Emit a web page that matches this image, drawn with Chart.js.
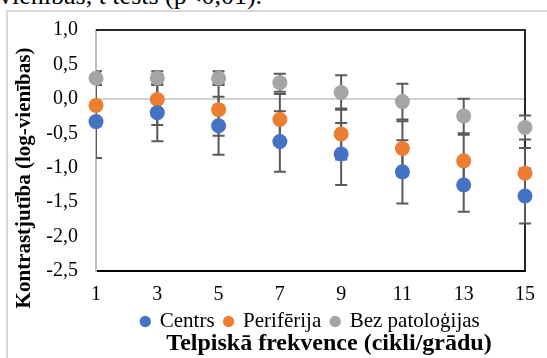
<!DOCTYPE html>
<html><head><meta charset="utf-8">
<script src="https://cdn.jsdelivr.net/npm/chart.js@4.4.1/dist/chart.umd.min.js"></script>
<style>
html,body{margin:0;padding:0;width:547px;height:358px;overflow:hidden;background:#fff;}
#doc{position:absolute;left:-1px;top:-17px;font-family:"Liberation Serif";font-size:26px;line-height:26px;white-space:nowrap;color:#000;}
#frame{position:absolute;left:6px;top:10px;width:700px;height:500px;border:2px solid #d9d9d9;}
#wrap{position:absolute;left:0;top:0;width:547px;height:358px;}
</style></head><body>
<div id="doc">vienības, t tests (p&lt;0,01).</div>
<div id="frame"></div>
<div id="wrap"><canvas id="c" width="547" height="358"></canvas></div>
<script>
const frequencies = [1, 3, 5, 7, 9, 11, 13, 15];
const seriesNames = ['Centrs', 'Perifērija', 'Bez patoloģijas'];
const centrsMean = [-0.33, -0.20, -0.39, -0.62, -0.80, -1.06, -1.25, -1.41];
const centrsErr = [0.53, 0.415, 0.42, 0.44, 0.45, 0.46, 0.39, 0.40];
const periferijaMean = [-0.095, -0.01, -0.157, -0.30, -0.51, -0.72, -0.90, -1.08];
const periferijaErr = [0.30, 0.37, 0.38, 0.37, 0.37, 0.395, 0.38, 0.365];
const bezMean = [0.30, 0.30, 0.30, 0.235, 0.093, -0.04, -0.25, -0.415];
const bezErr = [0.10, 0.10, 0.10, 0.13, 0.25, 0.26, 0.25, 0.175];
const yTicks = [1.0, 0.5, 0.0, -0.5, -1.0, -1.5, -2.0, -2.5];
const xTicks = [1, 3, 5, 7, 9, 11, 13, 15];
const xTitle = 'Telpiskā frekvence (cikli/grādu)';
const yTitle = 'Kontrastjutība (log-vienības)';
const colors = ['#4472C4', '#ED7D31', '#A5A5A5'];

const FONT = '"Liberation Serif", "Times New Roman", serif';
const means = [centrsMean, periferijaMean, bezMean];
const errs = [centrsErr, periferijaErr, bezErr];

const datasets = seriesNames.map((name, i) => ({
  label: name,
  data: frequencies.map((f, j) => ({x: f, y: means[i][j]})),
  errors: errs[i],
  backgroundColor: colors[i],
  borderColor: colors[i],
  borderWidth: 0,
  pointRadius: 7.5,
  pointHoverRadius: 7.5,
  pointStyle: 'circle',
  clip: false
}));

const decor = {
  id: 'decor',
  beforeDatasetsDraw(chart) {
    const {ctx, chartArea: a, scales: {x, y}} = chart;
    ctx.save();
    ctx.strokeStyle = '#262626';
    ctx.lineWidth = 2;
    ctx.beginPath();
    ctx.moveTo(a.left, a.top);
    ctx.lineTo(a.right, a.top);
    ctx.lineTo(a.right, a.bottom);
    ctx.stroke();
    ctx.beginPath();
    ctx.rect(a.left, 0, chart.width - a.left, chart.height);
    ctx.clip();
    ctx.strokeStyle = '#595959';
    ctx.lineWidth = 2;
    chart.data.datasets.forEach((ds) => {
      ds.data.forEach((p, j) => {
        const e = ds.errors[j];
        const px = x.getPixelForValue(p.x);
        const yt = y.getPixelForValue(p.y + e);
        const yb = y.getPixelForValue(p.y - e);
        ctx.beginPath();
        ctx.moveTo(px, yt); ctx.lineTo(px, yb);
        ctx.moveTo(px - 6, yt); ctx.lineTo(px + 6, yt);
        ctx.moveTo(px - 6, yb); ctx.lineTo(px + 6, yb);
        ctx.stroke();
      });
    });
    ctx.restore();
  },
  afterDraw(chart) {
    const {ctx, chartArea: a} = chart;
    ctx.save();
    ctx.fillStyle = '#000';
    ctx.textAlign = 'center';
    ctx.textBaseline = 'middle';
    ctx.font = 'bold 21px ' + FONT;
    ctx.translate(a.left - 71, (a.top + a.bottom) / 2 + 27.5);
    ctx.rotate(-Math.PI / 2);
    ctx.fillText(yTitle, 0, 0);
    ctx.restore();
    ctx.save();
    ctx.fillStyle = '#000';
    ctx.textAlign = 'center';
    ctx.textBaseline = 'middle';
    ctx.font = 'bold 24px ' + FONT;
    ctx.fillText(xTitle, (a.left + a.right) / 2 + 18.5, a.bottom + 73);
    ctx.restore();
  }
};

new Chart(document.getElementById('c'), {
  type: 'scatter',
  data: {datasets},
  options: {
    responsive: false,
    animation: false,
    devicePixelRatio: 1,
    layout: {padding: {left: 0, top: 25, right: 20, bottom: 16}},
    plugins: {
      tooltip: {enabled: false},
      legend: {
        position: 'bottom',
        fullSize: false,
        labels: {
          usePointStyle: true,
          pointStyle: 'circle',
          boxWidth: 8,
          boxHeight: 8,
          padding: 10,
          color: '#000',
          font: {family: FONT, size: 21}
        }
      }
    },
    scales: {
      x: {
        type: 'linear',
        min: xTicks[0],
        max: xTicks[xTicks.length - 1],
        afterFit(s) { s.height = 30; },
        afterBuildTicks(s) { s.ticks = xTicks.map(v => ({value: v})); },
        ticks: {
          autoSkip: false,
          padding: 12,
          color: '#000',
          font: {family: FONT, size: 20},
          callback: v => String(v)
        },
        grid: {display: false, drawTicks: false},
        border: {display: true, color: '#000', width: 2}
      },
      y: {
        type: 'linear',
        min: yTicks[yTicks.length - 1],
        max: yTicks[0],
        afterFit(s) { s.width = 96; },
        afterBuildTicks(s) { s.ticks = yTicks.slice().reverse().map(v => ({value: v})); },
        ticks: {
          padding: 18,
          color: '#000',
          font: {family: FONT, size: 20},
          callback: v => v.toFixed(1).replace('.', ',')
        },
        grid: {
          display: true,
          drawTicks: false,
          lineWidth: 2,
          color: c => (c.tick && c.tick.value === 0) ? '#d0d0d0' : 'rgba(0,0,0,0)'
        },
        border: {display: true, color: '#bfbfbf', width: 2}
      }
    }
  },
  plugins: [decor]
});
</script>
</body></html>
